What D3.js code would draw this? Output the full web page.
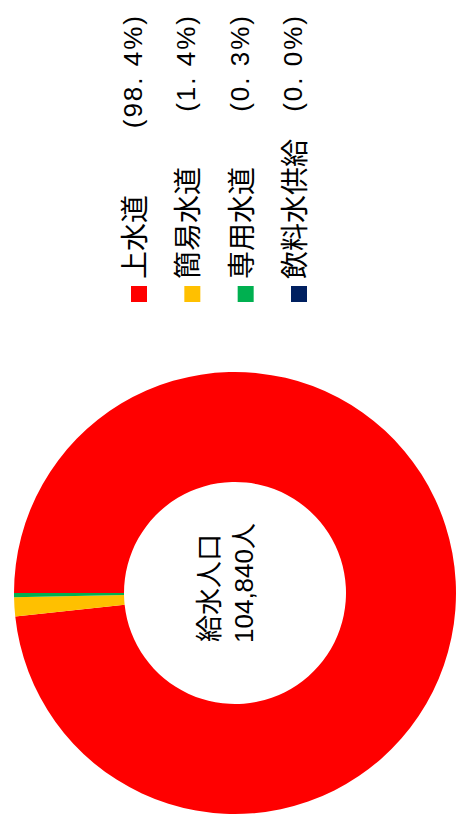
<!DOCTYPE html>
<html>
<head>
<meta charset="utf-8">
<script src="https://cdn.jsdelivr.net/npm/d3@7"></script>
<style>
  body { margin: 0; background: #fff; }
  svg { display: block; }
  text { font-family: "Liberation Sans", "Noto Sans CJK JP", sans-serif; fill: #000; }
</style>
</head>
<body>
<svg id="chart" width="457" height="816"></svg>
<script>
// 給水人口の内訳 (percent of total)
var categories = ["上水道", "簡易水道", "専用水道", "飲料水供給"];
var shares = [98.4, 1.4, 0.3, 0.0];
var shareLabels = ["(98. 4%)", "(1. 4%)", "(0. 3%)", "(0. 0%)"];
var colors = ["#ff0000", "#ffc000", "#00b050", "#002060"];
var centerTitle = "給水人口";
var totalPopulation = 104840;

// the chart is laid out in an 816x457 frame and turned a quarter to the left
var W = 816, H = 457;
var svg = d3.select("#chart");
var g = svg.append("g")
    .attr("transform", "translate(0," + W + ") rotate(-90)");

var cx = 223, cy = 235;
var outerR = 221, innerR = 111;

var pie = d3.pie().sort(null).value(function(d) { return d; });
var arc = d3.arc().innerRadius(innerR).outerRadius(outerR);

var donut = g.append("g").attr("transform", "translate(" + cx + "," + cy + ")");
donut.selectAll("path")
    .data(pie(shares))
    .enter()
    .append("path")
    .attr("d", arc)
    .attr("fill", function(d, i) { return colors[i]; });

donut.append("text")
    .attr("x", 5)
    .attr("y", -16)
    .attr("text-anchor", "middle")
    .style("font-size", "27px")
    .text(centerTitle);

donut.append("text")
    .attr("x", 10)
    .attr("y", 18)
    .attr("text-anchor", "middle")
    .style("font-size", "26px")
    .text(d3.format(",")(totalPopulation) + "人");

// legend
var rowY = d3.scalePoint()
    .domain(categories)
    .range([139, 299]);

var legend = g.selectAll(".legend")
    .data(categories)
    .enter()
    .append("g")
    .attr("class", "legend")
    .attr("transform", function(d) { return "translate(0," + rowY(d) + ")"; });

legend.append("rect")
    .attr("x", 514)
    .attr("y", -8)
    .attr("width", 16)
    .attr("height", 16)
    .attr("fill", function(d, i) { return colors[i]; });

legend.append("text")
    .attr("x", 537)
    .attr("y", 6)
    .style("font-size", "28px")
    .text(function(d) { return d; });

legend.append("text")
    .attr("x", 802)
    .attr("y", 3)
    .attr("text-anchor", "end")
    .style("font-size", "26px")
    .style("letter-spacing", "2px")
    .text(function(d, i) { return shareLabels[i]; });
</script>
</body>
</html>
